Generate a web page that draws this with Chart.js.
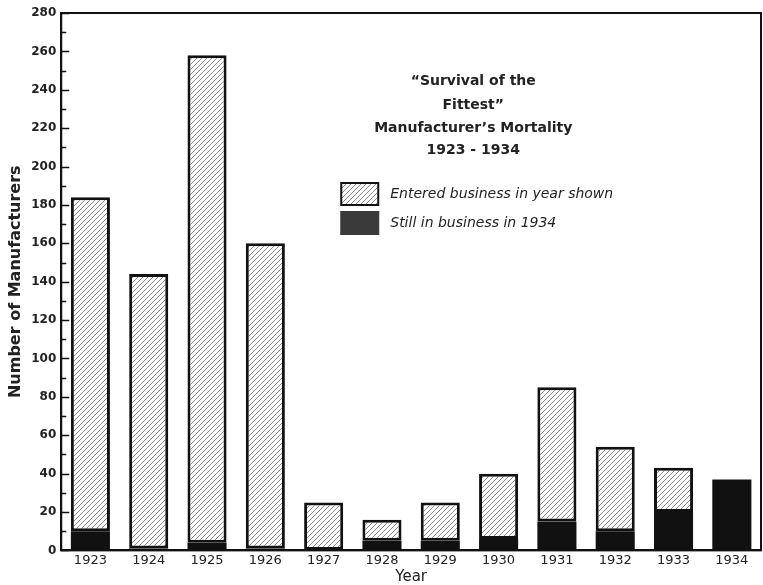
<!DOCTYPE html>
<html>
<head>
<meta charset="utf-8">
<script src="https://cdn.jsdelivr.net/npm/chart.js@4.4.1/dist/chart.umd.min.js"></script>
<style>
  html, body { margin: 0; padding: 0; background: #fff; }
  #wrap { width: 763px; height: 585px; }
</style>
</head>
<body>
<div id="wrap"><canvas id="mortality"></canvas></div>
<script>
// (it is tilted about 1 degree, values taken square to the baseline)
const years = ['1923', '1924', '1925', '1926', '1927', '1928', '1929', '1930', '1931', '1932', '1933', '1934'];
const entered = [184, 144, 258, 160, 25, 16, 25, 40, 85, 54, 43, 37];
const stillIn = [10, 1, 4, 1, 0, 5, 5, 6, 15, 10, 20, 37];
const yMax = 280;
const titleLines = ['\u201CSurvival of the', 'Fittest\u201D', 'Manufacturer\u2019s Mortality', '1923 - 1934'];
const legendLabels = ['Entered business in year shown', 'Still in business in 1934'];

const canvas = document.getElementById('mortality');
const ctx = canvas.getContext('2d');

// diagonal hatch like the original
function makeHatch() {
    const t = document.createElement('canvas');
    t.width = 5; t.height = 5;
    const p = t.getContext('2d');
    p.fillStyle = '#fff';
    p.fillRect(0, 0, 5, 5);
    p.strokeStyle = '#8c8c8c';
    p.lineWidth = 1;
    p.beginPath();
    p.moveTo(0, 5); p.lineTo(5, 0);
    p.moveTo(-1, 1); p.lineTo(1, -1);
    p.moveTo(4, 6); p.lineTo(6, 4);
    p.stroke();
    return ctx.createPattern(t, 'repeat');
}
const hatch = makeHatch();
const black = '#111';

const notes = {
    id: 'notes',
    afterDatasetsDraw(chart) {
        const c = chart.ctx;
        const a = chart.chartArea;
        const y = chart.scales.y;
        c.save();
        c.strokeStyle = black;
        c.lineWidth = 2;
        c.strokeRect(a.left, a.top, a.right - a.left, a.bottom - a.top);

        // tick marks point into the plot, longer on labelled values
        c.lineWidth = 1.5;
        c.beginPath();
        y.ticks.forEach(t => {
            const py = Math.round(y.getPixelForValue(t.value)) + 0.5;
            const len = t.value % 20 === 0 ? 8 : 5;
            c.moveTo(a.left, py);
            c.lineTo(a.left + len, py);
        });
        c.stroke();

        c.fillStyle = '#222';
        c.font = 'bold 14px "DejaVu Sans"';
        c.textAlign = 'center';
        c.textBaseline = 'middle';
        const ty = [68, 92, 115, 137];
        titleLines.forEach((t, i) => c.fillText(t, a.left + 412, a.top + ty[i]));

        // legend: hatched first, then black
        const fills = [hatch, '#3a3a3a'];
        c.font = 'italic 14px "DejaVu Sans"';
        c.textAlign = 'left';
        legendLabels.forEach((t, i) => {
            const bx = a.left + 280, by = a.top + 170 + i * 29;
            c.fillStyle = fills[i];
            c.fillRect(bx, by, 37, 22);
            c.lineWidth = 2;
            c.strokeStyle = i === 0 ? black : '#3a3a3a';
            c.strokeRect(bx, by, 37, 22);
            c.fillStyle = '#222';
            c.fillText(t, bx + 49, by + 11);
        });
        c.restore();
    }
};

new Chart(canvas, {
    type: 'bar',
    data: {
        labels: years,
        datasets: [{
            label: legendLabels[1],
            data: stillIn,
            backgroundColor: black,
            borderWidth: 0
        },
        {
            label: legendLabels[0],
            data: entered.map((v, i) => v - stillIn[i]),
            backgroundColor: hatch,
            borderColor: black,
            borderWidth: 3,
            borderSkipped: false
        }]
    },
    options: {
        responsive: true,
        maintainAspectRatio: false,
        animation: false,
        layout: { padding: { top: 13, right: 2, left: 1, bottom: 0 } },
        datasets: { bar: { barPercentage: 0.67, categoryPercentage: 1 } },
        plugins: {
            legend: { display: false },
            tooltip: { enabled: false }
        },
        scales: {
            x: {
                stacked: true,
                grid: { display: false, drawTicks: false },
                border: { display: true, color: black, width: 2 },
                ticks: { color: '#222', padding: 2, font: { family: 'DejaVu Sans', size: 13 } },
                title: {
                    display: true,
                    text: 'Year',
                    color: '#222',
                    padding: { top: 0, bottom: 0 },
                    font: { family: 'DejaVu Sans', size: 15, lineHeight: 1 }
                }
            },
            y: {
                stacked: true,
                min: 0,
                max: yMax,
                grid: { drawOnChartArea: false, drawTicks: false },
                border: { display: true, color: black, width: 2 },
                ticks: {
                    stepSize: 10,
                    autoSkip: false,
                    color: '#222',
                    padding: 5,
                    font: { family: 'DejaVu Sans', size: 12, weight: 'bold' },
                    callback: v => (v % 20 === 0 ? v : '')
                },
                title: {
                    display: true,
                    text: 'Number of Manufacturers',
                    color: '#222',
                    padding: { top: 5, bottom: 1 },
                    font: { family: 'DejaVu Sans', size: 16, weight: 'bold' }
                }
            }
        }
    },
    plugins: [notes]
});
</script>
</body>
</html>
